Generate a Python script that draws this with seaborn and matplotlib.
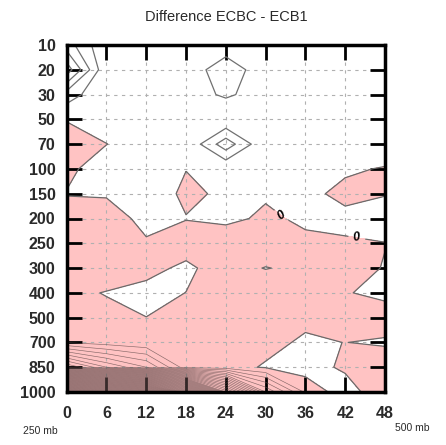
import numpy as np
import matplotlib
matplotlib.use("Agg")
import matplotlib.pyplot as plt
import seaborn as sns

# Forecast hour axis and pressure levels (top to bottom)
hours = [0, 6, 12, 18, 24, 30, 36, 42, 48]
pressure_labels = ["10", "20", "30", "50", "70", "100", "150", "200",
                   "250", "300", "400", "500", "700", "850", "1000"]

# Difference field ECBC - ECB1, one list per pressure level (hours 0..48)
diff_10hpa = [2.5, 0.1, 0.3, 0.4, 0.55, 0.4, 0.3, 0.3, 0.3]
diff_20hpa = [4.6, 0.1, 0.3, 0.5, 1.5, 0.5, 0.3, 0.3, 0.3]
diff_30hpa = [1.54, 0.1, 0.3, 0.55, 1.15, 0.55, 0.3, 0.3, 0.3]
diff_50hpa = [0.05, 0.3, 0.3, 0.4, 0.1, 0.3, 0.3, 0.3, 0.3]
diff_70hpa = [-0.45, -0.01, 0.3, 0.1, 2.6, 0.1, 0.3, 0.3, 0.45]
diff_100hpa = [-0.15, 0.35, 0.3, 0.02, 0.1, 0.3, 0.3, 0.1, -0.05]
diff_150hpa = [0.03, 0.15, 0.6, -0.2, 0.17, 0.1, 0.18, -0.18, -0.05]
diff_200hpa = [-0.3, -0.73, 0.45, 0.036, 0.21, -0.15, 0.15, 0.18, 0.45]
diff_250hpa = [-0.4, -0.5, -0.16, -0.47, -0.6, -0.9, -0.18, -0.077, -0.02]
diff_300hpa = [-0.5, -0.66, -0.3, 0.2, -0.49, 0.05, -0.3, -0.29, 0.04]
diff_400hpa = [-0.25, 0.05, 0.3, -0.01, -0.4, -0.9, -0.4, -0.075, 0.3]
diff_500hpa = [-0.6, -0.28, -0.01, -0.4, -0.5, -0.5, -0.225, -0.4, -0.6]
diff_700hpa = [-0.97, -0.5, -0.2, -0.5, -0.5, -0.28, 0.15, -0.013, 0.15]
diff_850hpa = [-9, -6, -4, -0.46, -0.34, 0.09, 0.5, -0.2, -0.79]
diff_1000hpa = [-50, -45, -42, -32, -15, -5, -0.8, 0.6, -0.9]

field = np.array([diff_10hpa, diff_20hpa, diff_30hpa, diff_50hpa, diff_70hpa,
                  diff_100hpa, diff_150hpa, diff_200hpa, diff_250hpa,
                  diff_300hpa, diff_400hpa, diff_500hpa, diff_700hpa,
                  diff_850hpa, diff_1000hpa])

sns.set_theme(style="white")
plt.rcParams["font.family"] = ["Liberation Sans", "DejaVu Sans"]

fig = plt.figure(figsize=(4.46, 4.45), dpi=100)
fig.patch.set_facecolor("white")
ax = fig.add_axes([66.7 / 446, 1 - 392 / 445, (385 - 66.7) / 446, (392 - 45) / 445])
ax.set_facecolor("white")

rows = np.arange(len(pressure_labels))
X, Y = np.meshgrid(hours, rows)

# negative differences shaded pink
ax.contourf(X, Y, field, levels=[-1000, 0], colors=["#ffc3c3"], zorder=1)

# closely packed negative isolines near the surface
ax.contour(X, Y, field, levels=np.arange(-50, 0, 1), colors="#5e4848",
           linewidths=0.45, alpha=0.75, linestyles="solid", zorder=2)
# positive isolines aloft
ax.contour(X, Y, field, levels=np.arange(1, 5, 1), colors="#707070",
           linewidths=0.9, linestyles="solid", zorder=2)
zero = ax.contour(X, Y, field, levels=[0], colors="#6a6a6a",
                  linewidths=0.9, linestyles="solid", zorder=2)
labels = ax.clabel(zero, levels=[0], fmt="%d", inline=True, fontsize=9,
                   colors="black", manual=[(33, 6.65), (43.7, 7.86)])
for t in labels:
    t.set_fontstyle("italic")
    t.set_fontweight("bold")

ax.set_xlim(0, 48)
ax.set_ylim(len(pressure_labels) - 1, 0)
ax.set_xticks(hours)
ax.set_xticklabels([str(h) for h in hours])
ax.set_yticks(rows)
ax.set_yticklabels(pressure_labels)

ax.grid(True, color="#b0b0b0", linestyle=(0, (3, 4)), linewidth=0.8)
ax.set_axisbelow("line")

ax.tick_params(direction="in", length=11, width=2, top=True, right=True,
               bottom=True, left=True, labelsize=11.5, pad=8, colors="black")
ax.tick_params(axis="x", pad=10)
for lab in ax.get_xticklabels() + ax.get_yticklabels():
    lab.set_fontweight("bold")
    lab.set_color("#2a2a2a")
for sp in ax.spines.values():
    sp.set_linewidth(2.5)
    sp.set_color("black")
    sp.set_visible(True)
    sp.set_zorder(5)

fig.text(226 / 446, 1 - 17 / 445, "Difference ECBC - ECB1", ha="center",
         va="center", fontsize=10.5, color="#2a2a2a")
fig.text(40 / 446, 1 - 431 / 445, "250 mb", ha="center", va="center",
         fontsize=7.5, color="#2a2a2a")
fig.text(412 / 446, 1 - 428 / 445, "500 mb", ha="center", va="center",
         fontsize=7.5, color="#2a2a2a")

fig.savefig("out.png", dpi=100, facecolor="white")
